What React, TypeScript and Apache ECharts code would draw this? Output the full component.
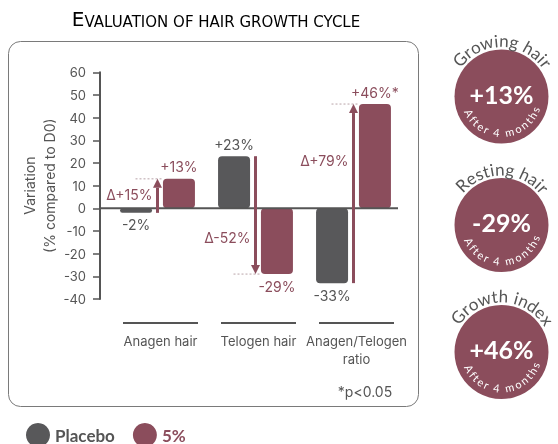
import { useEffect, useRef } from 'react';
import * as echarts from 'echarts';

const categories = ['Anagen hair', 'Telogen hair', 'Anagen/Telogen\nratio'];
const seriesNames = ['Placebo', '5%'];
const placeboValues = [-2, 23, -33];
const activeValues = [13, -29, 46];
const placeboLabels = ['-2%', '+23%', '-33%'];
const activeLabels = ['+13%', '-29%', '+46%*'];
const deltaLabels = ['Δ+15%', 'Δ-52%', 'Δ+79%'];
const deltaLabelAt = [6, -13, 21];
const yMin = -40;
const yMax = 60;
const yStep = 10;
const badgeTitles = ['Growing hair', 'Resting hair', 'Growth index'];
const badgeValues = ['+13%', '-29%', '+46%'];
const badgeNote = 'After 4 months';
const titleFirst = 'E';
const titleRest = 'VALUATION OF HAIR GROWTH CYCLE';
const footnote = '*p<0.05';

const GRAY = '#58585a';
const MAROON = '#8b4d5c';
const TEXT = '#555555';
const FONT = 'Inter, Roboto, sans-serif';

let measureCtx: CanvasRenderingContext2D | null = null;
function measure(ch: string, font: string): number {
  if (!measureCtx) measureCtx = document.createElement('canvas').getContext('2d');
  measureCtx!.font = font;
  return measureCtx!.measureText(ch).width;
}

function arcText(text: string, cx: number, cy: number, r: number, centerDeg: number, font: string, fill: string, spacing: number, bottom: boolean) {
  const chars = text.split('');
  const widths = chars.map((c) => measure(c, font) + spacing);
  const total = widths.reduce((a, b) => a + b, 0);
  const center = (centerDeg * Math.PI) / 180;
  const els: any[] = [];
  let cum = 0;
  chars.forEach((c, i) => {
    const mid = cum + widths[i] / 2;
    cum += widths[i];
    const phi = bottom ? center + total / (2 * r) - mid / r : center - total / (2 * r) + mid / r;
    const x = cx + r * Math.sin(phi);
    const y = cy - r * Math.cos(phi);
    els.push({
      type: 'text',
      x,
      y,
      rotation: bottom ? Math.PI - phi : -phi,
      style: { text: c, font, fill, align: 'center', verticalAlign: 'middle' },
      z: 10,
    });
  });
  return els;
}

export default function App() {
  const ref = useRef<HTMLDivElement>(null);
  useEffect(() => {
    if (!ref.current) return;
    const chart = echarts.init(ref.current, null, { renderer: 'svg' });

    const badgeCenters = [
      [501.5, 96.5],
      [501.5, 225],
      [501.5, 352],
    ];
    const badgeEls: any[] = [];
    badgeTitles.forEach((t, i) => {
      const [cx, cy] = badgeCenters[i];
      badgeEls.push({
        type: 'circle',
        shape: { cx, cy, r: 47 },
        style: { fill: MAROON },
        z: 5,
      });
      badgeEls.push(...arcText(t, cx, cy, 56, 1, '17px Lato, sans-serif', TEXT, 1.1, false));
      badgeEls.push({
        type: 'text',
        x: cx,
        y: cy - 3,
        style: {
          text: badgeValues[i],
          font: 'bold 25px Lato, sans-serif',
          fill: '#ffffff',
          align: 'center',
          verticalAlign: 'middle',
        },
        z: 10,
      });
      badgeEls.push(...arcText(badgeNote, cx, cy, 36, 178, '11px Lato, sans-serif', '#ffffff', 1.2, true));
    });

    const option: any = {
      animation: false,
      grid: { left: 108.5, top: 72.3, width: 294, height: 226.7, containLabel: false },
      legend: {
        left: 21,
        top: 418,
        icon: 'circle',
        itemWidth: 24,
        itemHeight: 24,
        itemGap: 18,
        data: [
          { name: seriesNames[0], textStyle: { color: TEXT } },
          { name: seriesNames[1], textStyle: { color: MAROON } },
        ],
        textStyle: { fontSize: 17, fontWeight: 'bold', fontFamily: 'Lato, sans-serif' },
      },
      xAxis: {
        type: 'category',
        data: categories,
        axisLine: { show: false, onZero: false },
        axisTick: { show: false },
        splitLine: { show: false },
        axisLabel: {
          color: TEXT,
          fontSize: 13,
          fontFamily: FONT,
          margin: 33,
          lineHeight: 18,
          padding: [0, 0, 0, 6],
          interval: 0,
        },
      },
      yAxis: {
        type: 'value',
        min: yMin,
        max: yMax,
        interval: yStep,
        offset: 8.5,
        axisLine: { show: true, onZero: false, lineStyle: { color: TEXT, width: 2 } },
        axisTick: { show: true, length: 7, lineStyle: { color: TEXT, width: 1.5 } },
        axisLabel: { color: TEXT, fontSize: 13, fontFamily: FONT, margin: 14 },
        splitLine: { show: false },
        name: 'Variation\n(% compared to D0)',
        nameLocation: 'middle',
        nameGap: 41,
        nameMoveOverlap: false,
        nameTextStyle: { color: TEXT, fontSize: 14, fontFamily: FONT, lineHeight: 20 },
      },
      graphic: [
        {
          type: 'rect',
          shape: { x: 8.5, y: 41.5, width: 410, height: 365, r: 12 },
          style: { fill: 'none', stroke: '#7a7a7a', lineWidth: 1 },
          z: 0,
        },
        {
          type: 'text',
          x: 216,
          y: 19,
          style: {
            text: `{b|${titleFirst}}{s|${titleRest}}`,
            align: 'center',
            verticalAlign: 'middle',
            rich: {
              b: { fontSize: 20, lineHeight: 20, fontFamily: 'DejaVu Sans, sans-serif', color: '#5c5c5c', verticalAlign: 'bottom' },
              s: { fontSize: 15, lineHeight: 15, fontFamily: 'DejaVu Sans, sans-serif', color: '#5c5c5c', verticalAlign: 'bottom' },
            },
          },
        },
        {
          type: 'text',
          x: 365,
          y: 391,
          style: { text: footnote, font: `14px ${FONT}`, fill: TEXT, align: 'center', verticalAlign: 'middle' },
        },
        ...badgeEls,
      ],
      series: [
        {
          name: seriesNames[0],
          type: 'bar',
          barWidth: 32,
          barGap: '34%',
          itemStyle: { color: GRAY, borderRadius: 4 },
          label: {
            show: true,
            color: TEXT,
            fontSize: 14,
            fontFamily: FONT,
            distance: 5,
            formatter: (p: any) => placeboLabels[p.dataIndex],
          },
          data: placeboValues.map((v) => ({ value: v, label: { position: v >= 0 ? 'top' : 'bottom' } })),
          z: 2,
        },
        {
          name: seriesNames[1],
          type: 'bar',
          barWidth: 32,
          itemStyle: { color: MAROON, borderRadius: 4 },
          label: {
            show: true,
            color: MAROON,
            fontSize: 14,
            fontFamily: FONT,
            distance: 5,
            formatter: (p: any) => activeLabels[p.dataIndex],
          },
          data: activeValues.map((v) => ({ value: v, label: { position: v >= 0 ? 'top' : 'bottom' } })),
          z: 2,
        },
        {
          type: 'custom',
          clip: false,
          silent: true,
          z: 4,
          data: [[0, 0]],
          renderItem: (params: any, api: any) => {
            const cs = params.coordSys;
            const zeroY = api.coord([0, 0])[1];
            const children: any[] = [
              {
                type: 'line',
                shape: { x1: cs.x - 8.5, y1: zeroY, x2: cs.x + cs.width - 4.5, y2: zeroY },
                style: { stroke: TEXT, lineWidth: 2 },
              },
            ];
            categories.forEach((_, i) => {
              const cx = api.coord([i, 0])[0] + 3;
              const y = cs.y + cs.height + 24;
              children.push({
                type: 'line',
                shape: { x1: cx - 37.5, y1: y, x2: cx + 37.5, y2: y },
                style: { stroke: TEXT, lineWidth: 2 },
              });
            });
            return { type: 'group', children };
          },
        },
        {
          type: 'custom',
          clip: false,
          silent: true,
          z: 5,
          data: categories.map((_, i) => [i, placeboValues[i], activeValues[i], deltaLabelAt[i]]),
          renderItem: (params: any, api: any) => {
            const i = api.value(0);
            const p0 = api.coord([i, api.value(1)]);
            const p1 = api.coord([i, api.value(2)]);
            const ly = api.coord([i, api.value(3)])[1];
            const x = p0[0];
            const dir = p1[1] > p0[1] ? 1 : -1;
            const head = 9;
            const baseY = p1[1] - dir * head;
            return {
              type: 'group',
              children: [
                {
                  type: 'line',
                  shape: { x1: x - 22, y1: p1[1], x2: x + 6, y2: p1[1] },
                  style: { stroke: '#b8a3a8', lineWidth: 1, lineDash: [2, 2] },
                },
                {
                  type: 'line',
                  shape: { x1: x, y1: p0[1], x2: x, y2: baseY },
                  style: { stroke: MAROON, lineWidth: 3 },
                },
                {
                  type: 'polygon',
                  shape: { points: [[x - 4.5, baseY], [x + 4.5, baseY], [x, p1[1]]] },
                  style: { fill: MAROON },
                },
                {
                  type: 'text',
                  x: x - 5,
                  y: ly,
                  style: {
                    text: deltaLabels[params.dataIndex],
                    font: `14px ${FONT}`,
                    fill: MAROON,
                    align: 'right',
                    verticalAlign: 'middle',
                  },
                },
              ],
            };
          },
        },
      ],
    };
    chart.setOption(option);
    return () => chart.dispose();
  }, []);
  return <div ref={ref} style={{ position: 'fixed', left: 0, top: 0, width: 558, height: 444 }} />;
}
